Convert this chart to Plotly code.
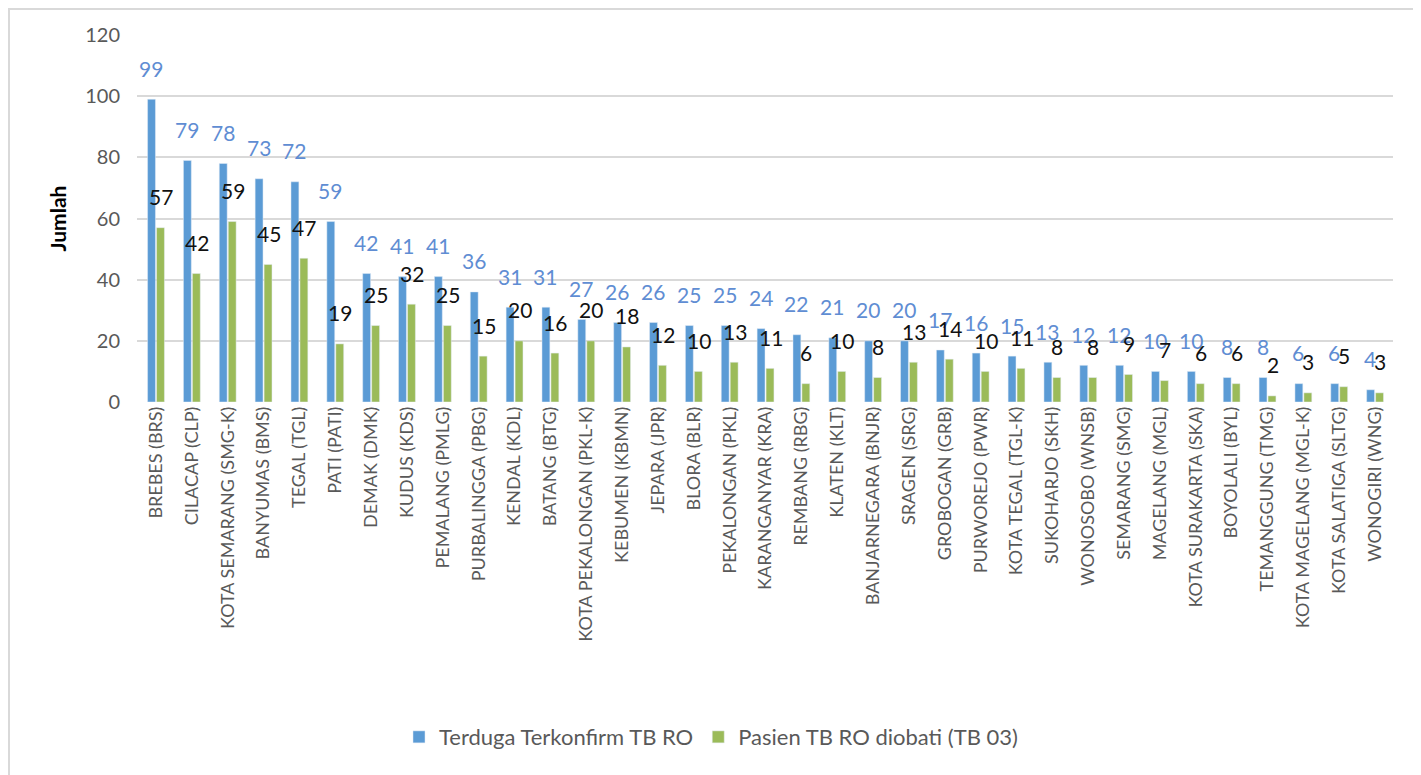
import plotly.graph_objects as go

# Kabupaten / kota (kode)
kabupaten = [
    "BREBES (BRS)", "CILACAP (CLP)", "KOTA SEMARANG (SMG-K)", "BANYUMAS (BMS)",
    "TEGAL (TGL)", "PATI (PATI)", "DEMAK (DMK)", "KUDUS (KDS)", "PEMALANG (PMLG)",
    "PURBALINGGA (PBG)", "KENDAL (KDL)", "BATANG (BTG)", "KOTA PEKALONGAN (PKL-K)",
    "KEBUMEN (KBMN)", "JEPARA (JPR)", "BLORA (BLR)", "PEKALONGAN (PKL)",
    "KARANGANYAR (KRA)", "REMBANG (RBG)", "KLATEN (KLT)", "BANJARNEGARA (BNJR)",
    "SRAGEN (SRG)", "GROBOGAN (GRB)", "PURWOREJO (PWR)", "KOTA TEGAL (TGL-K)",
    "SUKOHARJO (SKH)", "WONOSOBO (WNSB)", "SEMARANG (SMG)", "MAGELANG (MGL)",
    "KOTA SURAKARTA (SKA)", "BOYOLALI (BYL)", "TEMANGGUNG (TMG)",
    "KOTA MAGELANG (MGL-K)", "KOTA SALATIGA (SLTG)", "WONOGIRI (WNG)",
]
terkonfirm = [99, 79, 78, 73, 72, 59, 42, 41, 41, 36, 31, 31, 27, 26, 26, 25, 25,
              24, 22, 21, 20, 20, 17, 16, 15, 13, 12, 12, 10, 10, 8, 8, 6, 6, 4]
diobati = [57, 42, 59, 45, 47, 19, 25, 32, 25, 15, 20, 16, 20, 18, 12, 10, 13,
           11, 6, 10, 8, 13, 14, 10, 11, 8, 8, 9, 7, 6, 6, 2, 3, 5, 3]
y_ticks = [0, 20, 40, 60, 80, 100, 120]

BLUE = "#5b9bd5"
GREEN = "#9bbb59"
GRAY = "#595959"
FONT = "Lato"

fig = go.Figure()
fig.add_trace(go.Bar(x=kabupaten, y=terkonfirm, name="Terduga Terkonfirm TB RO",
                     marker_color=BLUE))
fig.add_trace(go.Bar(x=kabupaten, y=diobati, name="Pasien TB RO diobati (TB 03)",
                     marker_color=GREEN))

# data labels, floating a bit above each bar like the original
for k, a, b in zip(kabupaten, terkonfirm, diobati):
    fig.add_annotation(x=k, y=a, text=str(a), showarrow=False, xshift=-5, yshift=31,
                       font=dict(family=FONT, size=21, color="#5f8dd3"))
    fig.add_annotation(x=k, y=b, text=str(b), showarrow=False, xshift=5, yshift=31,
                       font=dict(family=FONT, size=21, color="#111111"))

# chart border
fig.add_shape(type="rect", xref="paper", yref="paper",
              x0=-0.1019, x1=1.0215, y0=-1.2, y1=1.071,
              line=dict(color="#d9d9d9", width=2), fillcolor="rgba(0,0,0,0)")

fig.update_layout(
    width=1421, height=775,
    margin=dict(l=129, r=36, t=27, b=381),
    plot_bgcolor="white", paper_bgcolor="white",
    barmode="group", bargap=0.5, bargroupgap=0.12,
    font=dict(family=FONT, color=GRAY),
    legend=dict(orientation="h", x=0.457, xanchor="center", y=-0.913, yanchor="middle",
                font=dict(size=22, color=GRAY), itemwidth=30, traceorder="normal"),
)
fig.update_xaxes(tickangle=-90, tickfont=dict(size=18, color=GRAY), showline=False,
                 ticks="", showgrid=False)
fig.update_yaxes(range=[0, 120], tickvals=y_ticks, tickfont=dict(size=20, color=GRAY),
                 gridcolor="#d9d9d9", gridwidth=1.5, zeroline=False, ticks="",
                 ticklabelstandoff=16,
                 title=dict(text="<b>Jumlah</b>", font=dict(size=21, color="black"),
                            standoff=12))

fig.write_html("out.html")
